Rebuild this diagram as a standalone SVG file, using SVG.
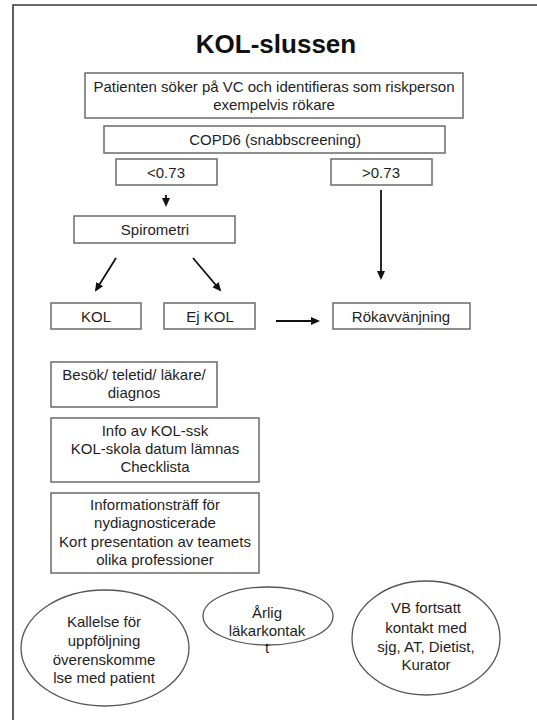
<svg xmlns="http://www.w3.org/2000/svg" width="537" height="720" viewBox="0 0 537 720">
  <defs>
    <marker id="head" markerUnits="userSpaceOnUse" markerWidth="10" markerHeight="9" refX="7" refY="4" orient="auto">
      <path d="M0,0 L9,4 L0,8 z" fill="#111"/>
    </marker>
    <style>
      .box { fill: #fff; stroke: #6a6a6a; stroke-width: 1.5; }
      .oval { fill: #fff; stroke: #555; stroke-width: 1.3; }
      .frame { fill: none; stroke: #3a3a3a; stroke-width: 1.6; }
      .t { font-family: "Liberation Sans", Arial, sans-serif; font-size: 15px; fill: #1e1e1e; text-anchor: middle; }
      .title { font-family: "Liberation Sans", Arial, sans-serif; font-size: 26px; font-weight: bold; fill: #111; text-anchor: middle; }
      .arrow { fill: none; stroke: #111; stroke-width: 1.8; marker-end: url(#head); }
    </style>
  </defs>

  <rect width="537" height="720" fill="#fff"/>

  <!-- page frame: top and left rule -->
  <path class="frame" d="M13,720 L13,5 L537,5"/>

  <text class="title" x="276" y="53">KOL-slussen</text>

  <g id="patient">
    <rect class="box" x="85" y="73" width="378" height="45"/>
    <text class="t" x="274" y="92">Patienten söker på VC och identifieras som riskperson</text>
    <text class="t" x="274" y="110">exempelvis  rökare</text>
  </g>

  <g id="copd6">
    <rect class="box" x="104" y="126" width="341" height="27"/>
    <text class="t" x="275" y="145">COPD6 (snabbscreening)</text>
  </g>

  <g id="below073">
    <rect class="box" x="116" y="159" width="101" height="26"/>
    <text class="t" x="166" y="178">&lt;0.73</text>
  </g>

  <g id="above073">
    <rect class="box" x="331" y="159" width="101" height="26"/>
    <text class="t" x="381" y="178">&gt;0.73</text>
  </g>

  <g id="spirometri">
    <rect class="box" x="74" y="216" width="161" height="27"/>
    <text class="t" x="155" y="235">Spirometri</text>
  </g>

  <g id="kol">
    <rect class="box" x="51" y="303" width="90" height="26"/>
    <text class="t" x="96" y="322">KOL</text>
  </g>

  <g id="ejkol">
    <rect class="box" x="164" y="303" width="91" height="26"/>
    <text class="t" x="210" y="322">Ej KOL</text>
  </g>

  <g id="rokavvanjning">
    <rect class="box" x="333" y="303" width="137" height="26"/>
    <text class="t" x="401" y="322">Rökavvänjning</text>
  </g>

  <g id="besok">
    <rect class="box" x="51" y="362" width="166" height="45"/>
    <text class="t" x="134" y="380">Besök/ teletid/ läkare/</text>
    <text class="t" x="134" y="398">diagnos</text>
  </g>

  <g id="info">
    <rect class="box" x="51" y="418" width="208" height="64"/>
    <text class="t" x="155" y="436">Info av KOL-ssk</text>
    <text class="t" x="155" y="454">KOL-skola datum lämnas</text>
    <text class="t" x="155" y="472">Checklista</text>
  </g>

  <g id="informationstraff">
    <rect class="box" x="51" y="493" width="208" height="80"/>
    <text class="t" x="155" y="510">Informationsträff för</text>
    <text class="t" x="155" y="528">nydiagnosticerade</text>
    <text class="t" x="155" y="547">Kort presentation av teamets</text>
    <text class="t" x="155" y="565">olika professioner</text>
  </g>

  <g id="kallelse">
    <ellipse class="oval" cx="105" cy="648" rx="84" ry="58"/>
    <text class="t" x="104" y="627">Kallelse för</text>
    <text class="t" x="104" y="646">uppföljning</text>
    <text class="t" x="104" y="665">överenskomme</text>
    <text class="t" x="104" y="683">lse med patient</text>
  </g>

  <g id="arlig">
    <ellipse class="oval" cx="268" cy="616" rx="65" ry="29"/>
    <text class="t" x="267" y="618">Årlig</text>
    <text class="t" x="267" y="636">läkarkontak</text>
    <text class="t" x="267" y="653">t</text>
  </g>

  <g id="vb">
    <ellipse class="oval" cx="426" cy="638" rx="74" ry="57"/>
    <text class="t" x="426" y="613">VB fortsatt</text>
    <text class="t" x="426" y="633">kontakt med</text>
    <text class="t" x="426" y="652">sjg, AT, Dietist,</text>
    <text class="t" x="426" y="670">Kurator</text>
  </g>

  <g id="connectors">
    <path class="arrow" d="M166,195 L166,205"/>
    <path class="arrow" d="M381,190 L381,278"/>
    <path class="arrow" d="M116,258 L96,290"/>
    <path class="arrow" d="M193,258 L220,290"/>
    <path class="arrow" d="M276,321 L318,321"/>
  </g>
</svg>
